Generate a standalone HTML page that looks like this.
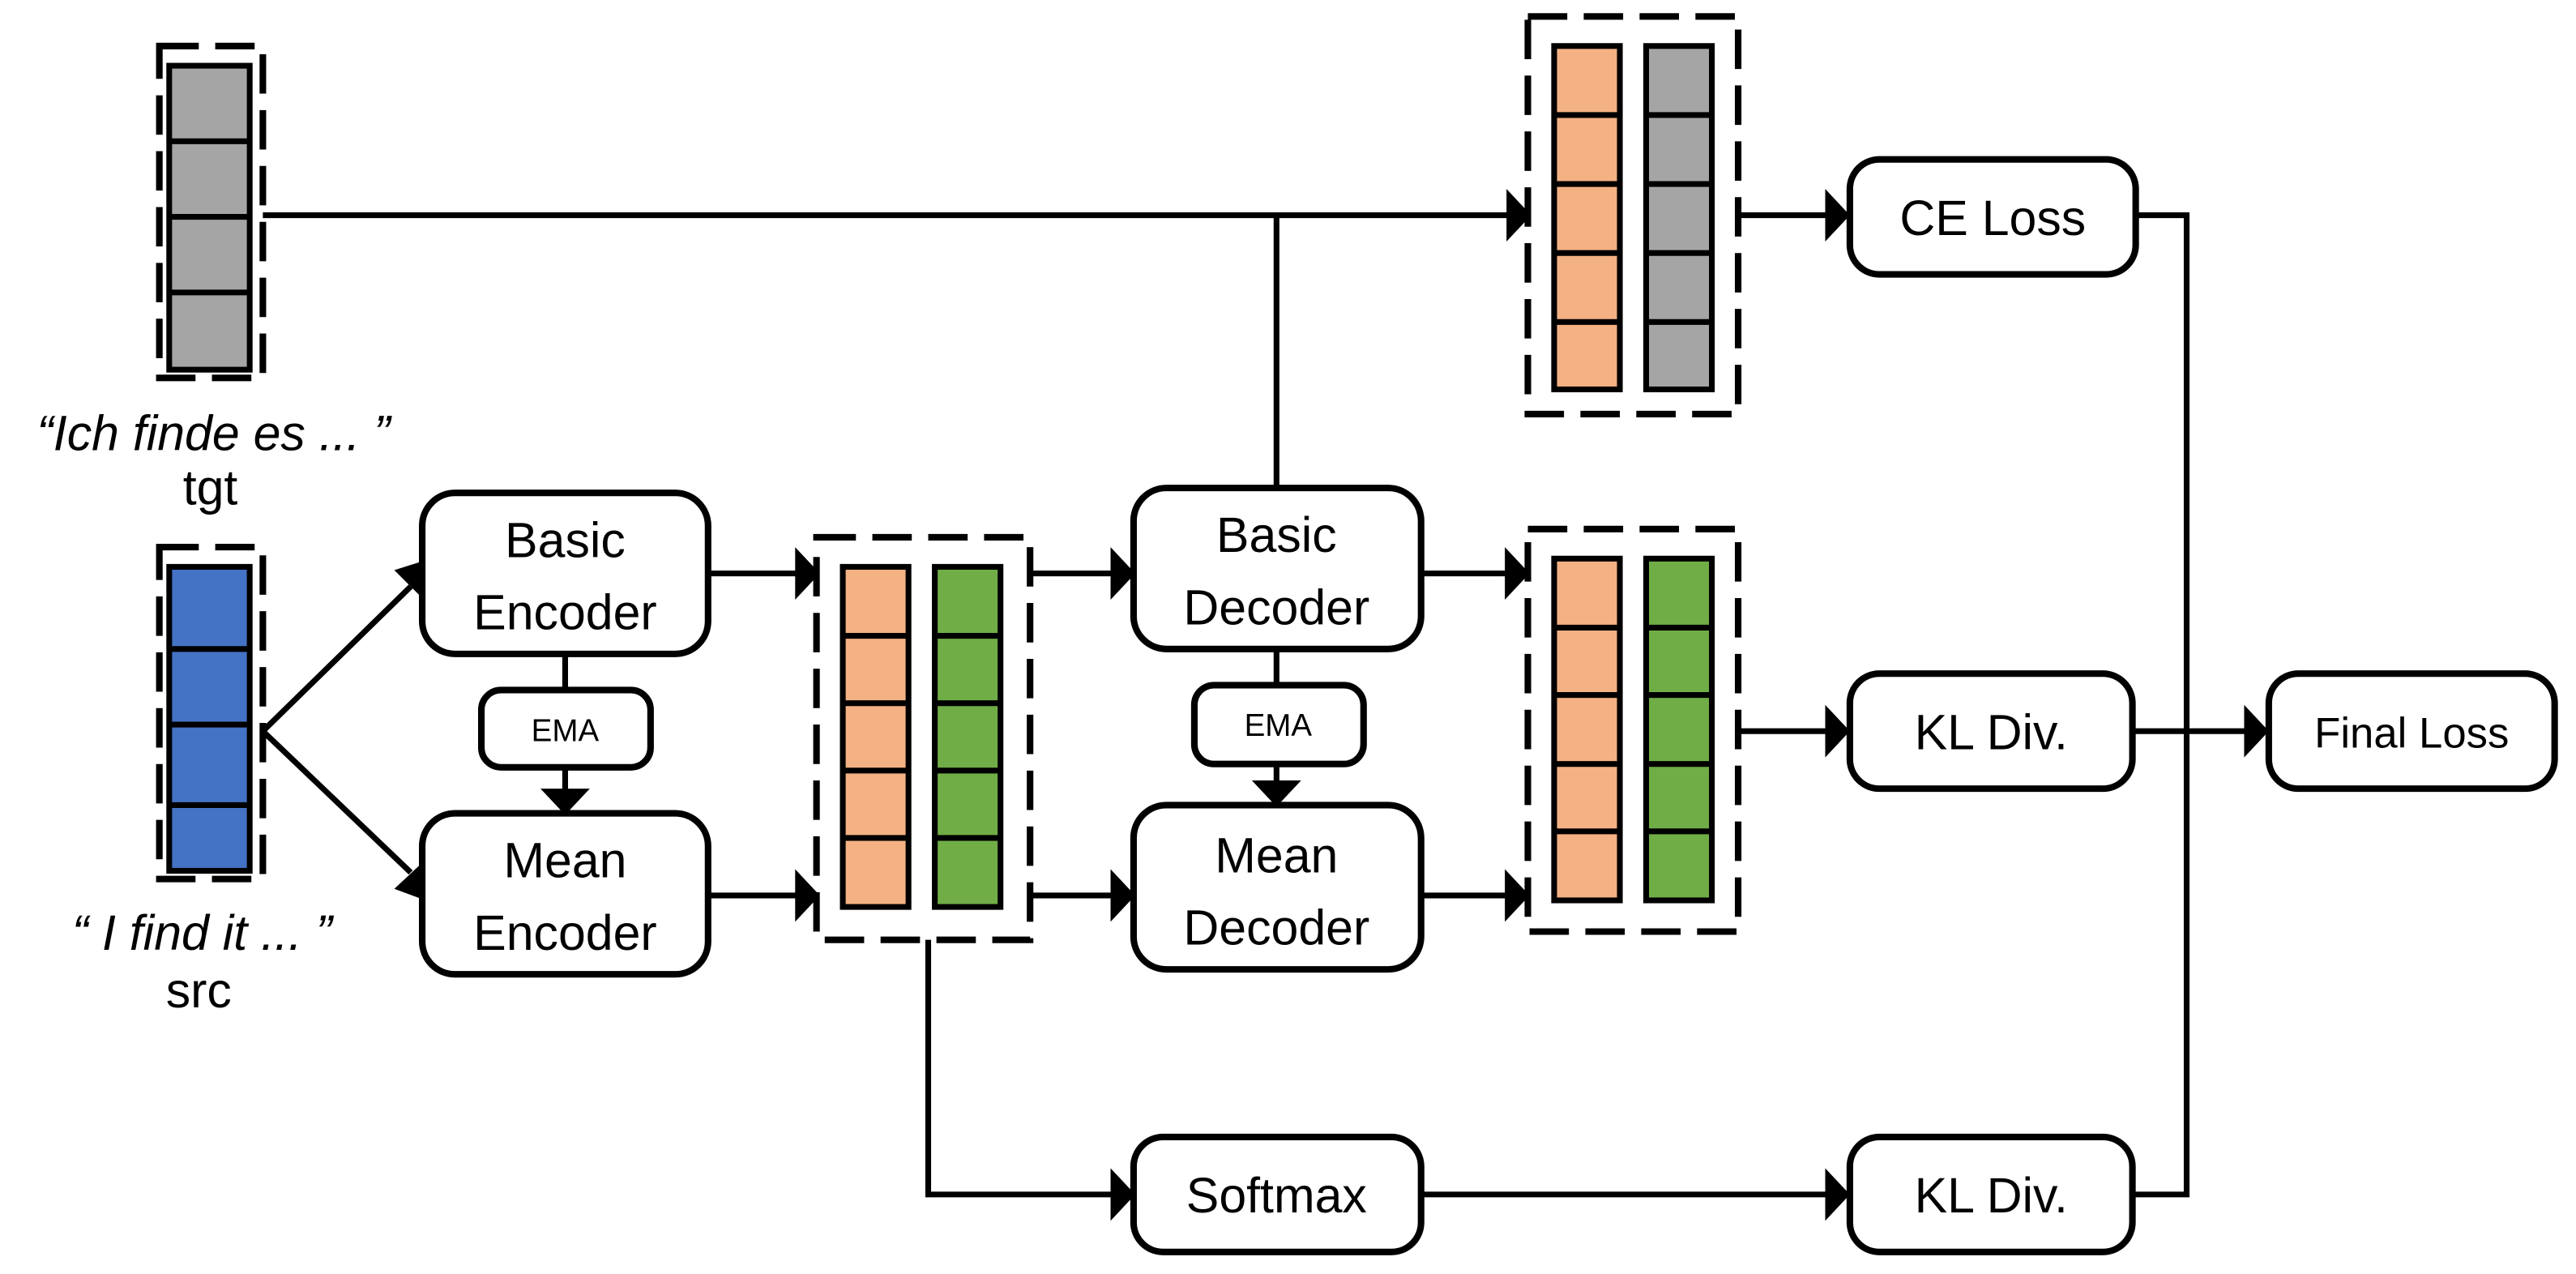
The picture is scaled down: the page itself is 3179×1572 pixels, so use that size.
<!DOCTYPE html>
<html><head><meta charset="utf-8"><style>
html,body{margin:0;padding:0;background:#fff;}
svg{display:block;}
text{font-family:"Liberation Sans",sans-serif;fill:#000;}
</style></head><body>
<svg width="3179" height="1572" viewBox="0 0 1568 775.4" preserveAspectRatio="none" xmlns="http://www.w3.org/2000/svg">
<g fill="none" stroke="#000" stroke-width="4" stroke-dasharray="24 10">
<rect x="97" y="28" width="63" height="202"/>
<rect x="97" y="333" width="63" height="202"/>
<rect x="497" y="327" width="130" height="245"/>
<rect x="930" y="10" width="128" height="242"/>
<rect x="930" y="322" width="128" height="245"/>
</g>
<g stroke="#000" stroke-width="3.5">
<rect x="103" y="40" width="49" height="185" fill="#A5A5A5"/>
<line x1="103" y1="86" x2="152" y2="86"/><line x1="103" y1="132" x2="152" y2="132"/><line x1="103" y1="178" x2="152" y2="178"/>
<rect x="103" y="345" width="49" height="185" fill="#4472C4"/>
<line x1="103" y1="395" x2="152" y2="395"/><line x1="103" y1="441" x2="152" y2="441"/><line x1="103" y1="490" x2="152" y2="490"/>
<rect x="513" y="345" width="40" height="207" fill="#F4B183"/>
<rect x="569" y="345" width="40" height="207" fill="#70AD47"/>
<rect x="946" y="28" width="40" height="209" fill="#F4B183"/>
<rect x="1002" y="28" width="40" height="209" fill="#A5A5A5"/>
<rect x="946" y="340" width="40" height="208" fill="#F4B183"/>
<rect x="1002" y="340" width="40" height="208" fill="#70AD47"/>
</g>
<g stroke="#000" stroke-width="3.5">
<path d="M513 387H553M513 428H553M513 469H553M513 510H553M569 387H609M569 428H609M569 469H609M569 510H609"/>
<path d="M946 70H986M946 112H986M946 154H986M946 196H986M1002 70H1042M1002 112H1042M1002 154H1042M1002 196H1042"/>
<path d="M946 382H986M946 423H986M946 465H986M946 506H986M1002 382H1042M1002 423H1042M1002 465H1042M1002 506H1042"/>
</g>
<g stroke="#000" stroke-width="3.5" fill="none">
<path d="M160 131H920"/>
<path d="M777 131V298"/>
<path d="M160 445L250 357"/>
<path d="M160 445L250 531"/>
<path d="M344 398V420M344 467V484"/>
<path d="M777 395V417M777 465V480"/>
<path d="M431 349H486M431 545H486"/>
<path d="M627 349H680M627 545H680"/>
<path d="M865 349H920M865 545H920"/>
<path d="M565 572V727H680"/>
<path d="M865 727H1114"/>
<path d="M1058 131H1114"/>
<path d="M1058 445H1114"/>
<path d="M1298 131H1331V727H1298"/>
<path d="M1298 445H1370"/>
</g>
<g fill="#000">
<polygon points="917,115 932,131 917,147"/>
<polygon points="484,333 499,349 484,365"/>
<polygon points="484,529 499,545 484,561"/>
<polygon points="676,333 691,349 676,365"/>
<polygon points="676,529 691,545 676,561"/>
<polygon points="916,333 931,349 916,365"/>
<polygon points="916,529 931,545 916,561"/>
<polygon points="676,711 691,727 676,743"/>
<polygon points="1111,115 1126,131 1111,147"/>
<polygon points="1111,429 1126,445 1111,461"/>
<polygon points="1111,711 1126,727 1111,743"/>
<polygon points="1366,429 1381,445 1366,461"/>
<polygon points="329,480 359,480 344,496"/>
<polygon points="762,475 792,475 777,491"/>
<polygon points="240,347 259,341 255,362"/>
<polygon points="240,541 259,548 255,527"/>
</g>
<g fill="#fff" stroke="#000" stroke-width="4">
<rect x="257" y="300" width="174" height="98" rx="20"/>
<rect x="257" y="495" width="174" height="98" rx="20"/>
<rect x="293" y="420" width="103" height="47" rx="12"/>
<rect x="690" y="297" width="175" height="98" rx="20"/>
<rect x="690" y="490" width="175" height="100" rx="20"/>
<rect x="727" y="417" width="103" height="48" rx="12"/>
<rect x="690" y="692" width="175" height="70" rx="18"/>
<rect x="1126" y="97" width="174" height="70" rx="18"/>
<rect x="1126" y="410" width="172" height="70" rx="18"/>
<rect x="1126" y="692" width="172" height="70" rx="18"/>
<rect x="1381" y="410" width="174" height="70" rx="18"/>
</g>
<g text-anchor="middle" font-size="30">
<text x="344" y="339">Basic</text><text x="344" y="383">Encoder</text>
<text x="344" y="534">Mean</text><text x="344" y="578">Encoder</text>
<text x="777" y="336">Basic</text><text x="777" y="380">Decoder</text>
<text x="777" y="531">Mean</text><text x="777" y="575">Decoder</text>
<text x="777" y="738">Softmax</text>
<text x="1213" y="143">CE Loss</text>
<text x="1212" y="456">KL Div.</text>
<text x="1212" y="738">KL Div.</text>
<text x="1468" y="455" font-size="26">Final Loss</text>
<text x="344" y="451" font-size="19">EMA</text>
<text x="778" y="448" font-size="19">EMA</text>
<text x="130" y="274" font-style="italic" font-size="30">“Ich finde es ... ”</text>
<text x="128" y="307" font-size="30">tgt</text>
<text x="123" y="578" font-style="italic" font-size="30">“ I find it ...  ”</text>
<text x="121" y="613" font-size="30">src</text>
</g>
</svg>
</body></html>
